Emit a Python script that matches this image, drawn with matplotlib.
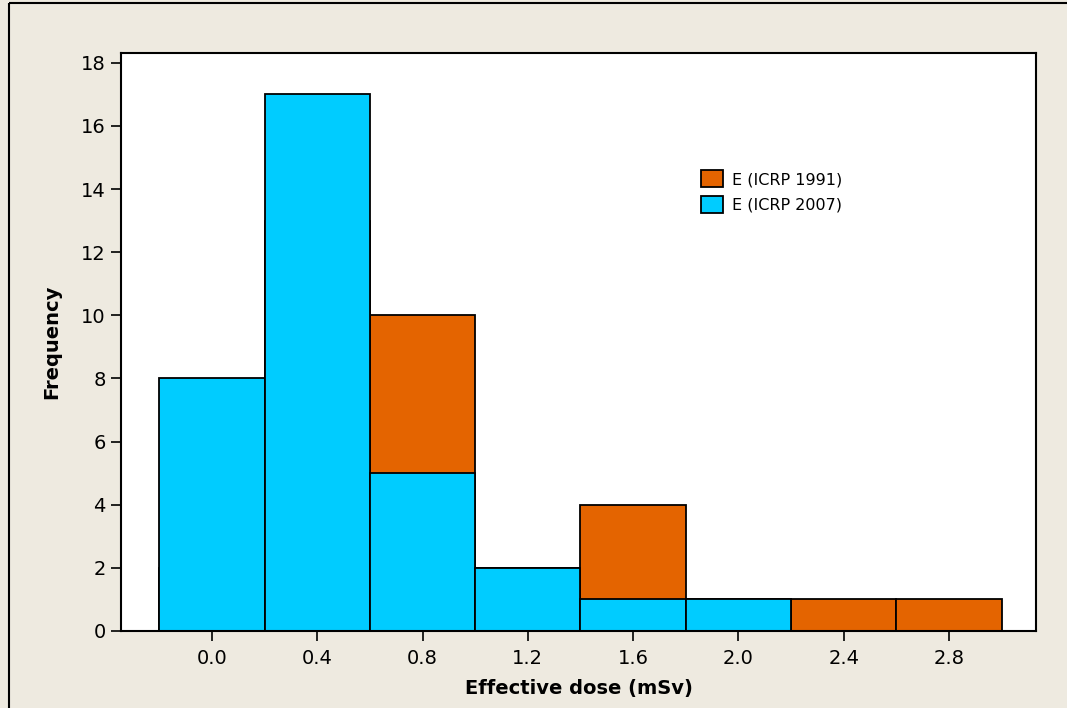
import matplotlib
matplotlib.use("Agg")
import matplotlib.pyplot as plt
from matplotlib.patches import Patch
from matplotlib.lines import Line2D

# Data
bin_centers = [0.0, 0.4, 0.8, 1.2, 1.6, 2.0, 2.4, 2.8]
tick_labels = ["0.0", "0.4", "0.8", "1.2", "1.6", "2.0", "2.4", "2.8"]
freq_icrp1991 = [2, 13, 10, 2, 4, 1, 1, 1]
freq_icrp2007 = [8, 17, 5, 2, 1, 1, 0, 0]
series_labels = ["E (ICRP 1991)", "E (ICRP 2007)"]
y_ticks = [0, 2, 4, 6, 8, 10, 12, 14, 16, 18]

orange = "#E46400"
cyan = "#00CCFF"
beige = "#EEEAE0"

plt.rcParams['font.family'] = ['DejaVu Sans']

fig = plt.figure(figsize=(10.67, 7.08), dpi=100, facecolor=beige)
ax = fig.add_axes([121/1067, 1-631/708, (1036-121)/1067, (631-53)/708])
ax.set_facecolor("white")

ax.bar(bin_centers, freq_icrp1991, width=0.4, color=orange, edgecolor="black", linewidth=1.3, zorder=2)
ax.bar(bin_centers, freq_icrp2007, width=0.4, color=cyan, edgecolor="black", linewidth=1.3, zorder=3)

ax.set_xlim(-0.346, 3.131)
ax.set_ylim(0, 18.31)
ax.set_xticks(bin_centers)
ax.set_xticklabels(tick_labels)
ax.set_yticks(y_ticks)
ax.tick_params(axis="both", direction="out", length=7, width=1.2, labelsize=14, colors="black")
ax.tick_params(axis="x", pad=6)
ax.tick_params(axis="y", pad=4)
for s in ax.spines.values():
    s.set_linewidth(1.5)
    s.set_color("black")
    s.set_zorder(5)

ax.set_xlabel("Effective dose (mSv)", fontsize=14, fontweight="bold", labelpad=8)
ax.set_ylabel("Frequency", fontsize=14, fontweight="bold", labelpad=14)

handles = [Patch(facecolor=orange, edgecolor="black", linewidth=1.3),
           Patch(facecolor=cyan, edgecolor="black", linewidth=1.3)]
ax.legend(handles, series_labels, loc="upper left", bbox_to_anchor=(0.634, 0.797),
          frameon=False, fontsize=11.5, handlelength=1.4, handleheight=1.25,
          handletextpad=0.55, labelspacing=0.55, borderpad=0, borderaxespad=0)

# outer border (top and left)
fig.add_artist(Line2D([9/1067, 1], [1-3/708, 1-3/708], transform=fig.transFigure, color="black", linewidth=1.5, solid_capstyle="butt"))
fig.add_artist(Line2D([9/1067, 9/1067], [0, 1-3/708], transform=fig.transFigure, color="black", linewidth=1.5, solid_capstyle="butt"))

fig.savefig("out.png", dpi=100, facecolor=beige)
